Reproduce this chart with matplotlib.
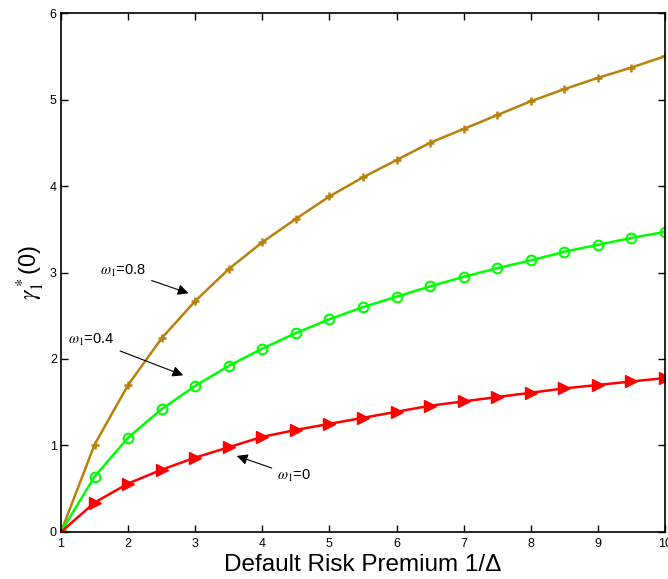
import numpy as np
import matplotlib
matplotlib.use("Agg")
import matplotlib.pyplot as plt

plt.rcParams['font.family'] = ['Liberation Sans', 'DejaVu Sans']
plt.rcParams['mathtext.fontset'] = 'stix'

# default risk premium 1/Delta
premium = [1, 1.5, 2, 2.5, 3, 3.5, 4, 4.5, 5, 5.5, 6, 6.5, 7, 7.5, 8, 8.5, 9, 9.5, 10]

# gamma_1^*(0) for each omega_1
gamma_08 = [0, 1.01, 1.70, 2.24, 2.67, 3.04, 3.35, 3.62, 3.88, 4.10,
            4.30, 4.50, 4.66, 4.82, 4.98, 5.12, 5.25, 5.37, 5.50]
gamma_04 = [0, 0.64, 1.09, 1.42, 1.69, 1.92, 2.12, 2.30, 2.46, 2.60,
            2.72, 2.84, 2.95, 3.05, 3.14, 3.24, 3.32, 3.40, 3.47]
gamma_00 = [0, 0.34, 0.56, 0.72, 0.86, 0.98, 1.10, 1.18, 1.25, 1.32,
            1.39, 1.46, 1.51, 1.56, 1.61, 1.66, 1.70, 1.74, 1.78]

fig = plt.figure(figsize=(6.68, 5.79), dpi=100)
ax = fig.add_axes([0.0913, 0.0812, 0.9042, 0.8963])

ax.plot(premium, gamma_08, color='#b8800c', lw=1.8, marker='+', ms=6, mew=1.8)
ax.plot(premium, gamma_04, color='#00ff00', lw=1.8, marker='o', ms=7,
        mfc='none', mew=1.5)
ax.plot(premium, gamma_00, color='#ff0000', lw=1.8, marker='>', ms=8, mew=1)

ax.set_xlim(1, 10)
ax.set_ylim(0, 6)
ax.set_xticks(range(1, 11))
ax.set_yticks(range(0, 7))
ax.tick_params(direction='in', length=5, width=1, labelsize=9, pad=3,
               top=True, right=True)
ax.tick_params(axis='x', pad=4)
for s in ax.spines.values():
    s.set_linewidth(1.2)

ax.set_xlabel(u'Default Risk Premium 1/\u0394', fontsize=17.5, labelpad=3)
ax.set_ylabel(r'$\gamma_1^*$(0)', fontsize=17, labelpad=2)

arrow = dict(arrowstyle='-|>', color='black', lw=0.8, mutation_scale=16)
ax.annotate(r'$\omega_1$=0.8', xy=(2.94, 2.75), xytext=(2.27, 3.02),
            ha='right', va='center', fontsize=10.5, arrowprops=arrow)
ax.annotate(r'$\omega_1$=0.4', xy=(2.86, 1.80), xytext=(1.80, 2.22),
            ha='right', va='center', fontsize=10.5, arrowprops=arrow)
ax.annotate(r'$\omega_1$=0', xy=(3.58, 0.89), xytext=(4.22, 0.65),
            ha='left', va='center', fontsize=10.5, arrowprops=arrow)

fig.savefig('out.png', dpi=100)
